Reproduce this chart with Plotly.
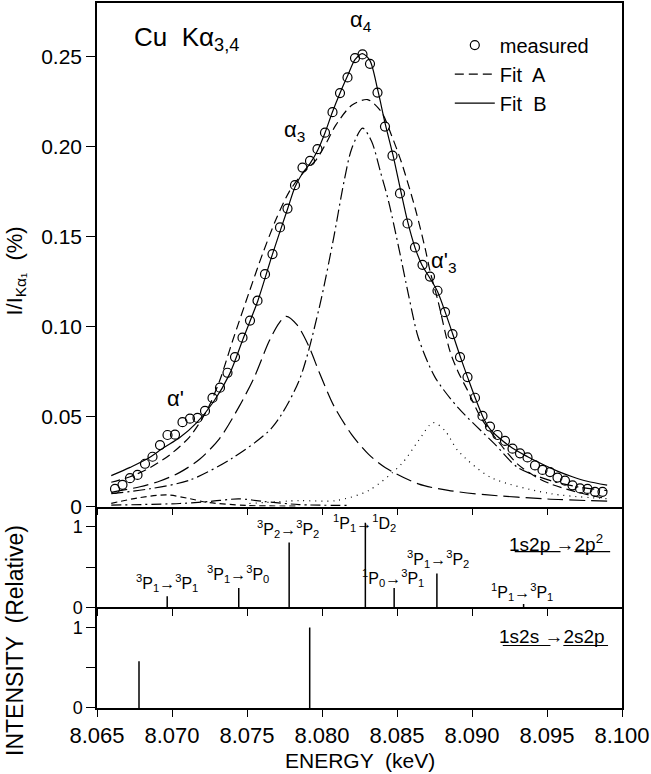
import plotly.graph_objects as go

# ---------------- data ----------------
meas_x = [8.0662, 8.0667, 8.0672, 8.0677, 8.0682, 8.0687, 8.0692, 8.0697, 8.0702, 8.0707,
          8.0712, 8.0717, 8.0722, 8.0727, 8.0732, 8.0737, 8.0742, 8.0747, 8.0752, 8.0757,
          8.0762, 8.0767, 8.0772, 8.0777, 8.0782, 8.0787, 8.0792, 8.0797, 8.0802, 8.0807,
          8.0812, 8.0817, 8.0822, 8.0827, 8.0832, 8.0837, 8.0842, 8.0847, 8.0852, 8.0857,
          8.0862, 8.0867, 8.0872, 8.0877, 8.0882, 8.0887, 8.0892, 8.0897, 8.0902, 8.0907,
          8.0912, 8.0917, 8.0922, 8.0927, 8.0932, 8.0937, 8.0942, 8.0947, 8.0952, 8.0957,
          8.0962, 8.0967, 8.0972, 8.0977, 8.0982, 8.0987]
meas_y = [0.0098, 0.0121, 0.0158, 0.0176, 0.0238, 0.0277, 0.0342, 0.0398, 0.0400, 0.0469,
          0.0489, 0.0493, 0.0532, 0.0604, 0.0661, 0.0744, 0.0831, 0.0939, 0.1034, 0.1145,
          0.1292, 0.1404, 0.1552, 0.1657, 0.1787, 0.1885, 0.1922, 0.1987, 0.2079, 0.2193,
          0.2299, 0.2386, 0.2494, 0.2514, 0.2462, 0.2302, 0.2113, 0.1951, 0.1741, 0.1574,
          0.1441, 0.1344, 0.1279, 0.1200, 0.1081, 0.0959, 0.0831, 0.0720, 0.0605, 0.0504,
          0.0445, 0.0398, 0.0365, 0.0322, 0.0296, 0.0273, 0.0229, 0.0204, 0.0192, 0.0161,
          0.0144, 0.0118, 0.0101, 0.0098, 0.0082, 0.0082]

fitB_x = [8.06595, 8.06721, 8.06833, 8.06946, 8.07052, 8.07165, 8.07277, 8.07383, 8.07476,
          8.07573, 8.07670, 8.07771, 8.07820, 8.07871, 8.07922, 8.07969, 8.08019, 8.08069,
          8.08121, 8.08172, 8.08221, 8.08269, 8.08319, 8.08372, 8.08422, 8.08473, 8.08525,
          8.08571, 8.08620, 8.08668, 8.08719, 8.08770, 8.08822, 8.08872, 8.08922, 8.08973,
          8.09023, 8.09073, 8.09119, 8.09172, 8.09271, 8.09371, 8.09470, 8.09569, 8.09669,
          8.09768, 8.09901]
fitB_y = [0.0172, 0.0218, 0.0264, 0.0328, 0.0384, 0.0467, 0.0583, 0.0735, 0.0937,
          0.1146, 0.1404, 0.1656, 0.1777, 0.1855, 0.1910, 0.1977, 0.2076, 0.2193,
          0.2301, 0.2398, 0.2486, 0.2519, 0.2481, 0.2315, 0.2126, 0.1955, 0.1755,
          0.1584, 0.1440, 0.1340, 0.1271, 0.1196, 0.1080, 0.0958, 0.0833, 0.0714,
          0.0601, 0.0498, 0.0432, 0.0388, 0.0324, 0.0277, 0.0235, 0.0197, 0.0166,
          0.0141, 0.0119]

fitA_x = [8.06595, 8.06721, 8.06853, 8.06986, 8.07118, 8.07231, 8.07317, 8.07403, 8.07516,
          8.07602, 8.07695, 8.07781, 8.07867, 8.07960, 8.08032, 8.08092, 8.08198, 8.08304,
          8.08397, 8.08463, 8.08529, 8.08622, 8.08688, 8.08721, 8.08774, 8.08853, 8.08907,
          8.08973, 8.09059, 8.09172, 8.09304, 8.09437, 8.09524, 8.09702, 8.09901]
fitA_y = [0.0135, 0.0166, 0.0216, 0.0288, 0.0388, 0.0532, 0.0698, 0.0919, 0.1196,
          0.1401, 0.1600, 0.1750, 0.1849, 0.1927, 0.2027, 0.2121, 0.2231, 0.2263,
          0.2193, 0.2065, 0.1916, 0.1656, 0.1434, 0.1307, 0.1141, 0.0864, 0.0750,
          0.0642, 0.0494, 0.0365, 0.0236, 0.0160, 0.0126, 0.0080, 0.0043]

c1_x = [8.06595, 8.06787, 8.06920, 8.07052, 8.07184, 8.07317, 8.07450, 8.07549, 8.07648,
        8.07714, 8.07761, 8.07834, 8.07913, 8.07980, 8.08079, 8.08198, 8.08311, 8.08423,
        8.08642, 8.08841, 8.09086, 8.09503, 8.09901]
c1_y = [0.0079, 0.0110, 0.0142, 0.0190, 0.0263, 0.0378, 0.0560, 0.0720, 0.0920,
        0.1020, 0.1058, 0.1010, 0.0890, 0.0750, 0.0560, 0.0400, 0.0290, 0.0216,
        0.0126, 0.0090, 0.0066, 0.0042, 0.0030]

c2_x = [8.06595, 8.06853, 8.07118, 8.07403, 8.07668, 8.07847, 8.07980, 8.08079, 8.08145,
        8.08198, 8.08271, 8.08331, 8.08390, 8.08443, 8.08509, 8.08576, 8.08642, 8.08753,
        8.08907, 8.09152, 8.09304, 8.09524, 8.09702, 8.09901]
c2_y = [0.0072, 0.0099, 0.0147, 0.0270, 0.0440, 0.0700, 0.1100, 0.1500, 0.1800,
        0.1990, 0.2104, 0.2030, 0.1860, 0.1700, 0.1450, 0.1180, 0.0940, 0.0720,
        0.0550, 0.0347, 0.0218, 0.0144, 0.0110, 0.0089]

c3_x = [8.07516, 8.07847, 8.08092, 8.08311, 8.08529, 8.08642, 8.08741, 8.08821, 8.08907,
        8.09126, 8.09524, 8.09901]
c3_y = [0.0017, 0.0033, 0.0033, 0.0089, 0.0236, 0.0365, 0.0467, 0.0421, 0.0310,
        0.0162, 0.0072, 0.0044]

c4_x = [8.06595, 8.06787, 8.06966, 8.07118, 8.07231, 8.07496, 8.07847]
c4_y = [0.0018, 0.0050, 0.0065, 0.0044, 0.0024, 0.0006, 0.0003]

c5_x = [8.06595, 8.07052, 8.07251, 8.07443, 8.07615, 8.07847, 8.08178]
c5_y = [0.0008, 0.0017, 0.0028, 0.0043, 0.0028, 0.0011, 0.0006]

# 1s2p -> 2p^2 transitions (relative intensity)
t1_x = [8.06968, 8.07445, 8.07781, 8.08289, 8.08481, 8.08766, 8.09344]
t1_h = [0.136, 0.240, 0.805, 1.05, 0.240, 0.420, 0.04]
t1_lab = ["<sup>3</sup>P<sub>1</sub>\u2192<sup>3</sup>P<sub>1</sub>",
          "<sup>3</sup>P<sub>1</sub>\u2192<sup>3</sup>P<sub>0</sub>",
          "<sup>3</sup>P<sub>2</sub>\u2192<sup>3</sup>P<sub>2</sub>",
          "<sup>1</sup>P<sub>1</sub>\u2192<sup>1</sup>D<sub>2</sub>",
          "<sup>1</sup>P<sub>0</sub>\u2192<sup>3</sup>P<sub>1</sub>",
          "<sup>3</sup>P<sub>1</sub>\u2192<sup>3</sup>P<sub>2</sub>",
          "<sup>1</sup>P<sub>1</sub>\u2192<sup>3</sup>P<sub>1</sub>"]

# 1s2s -> 2s2p transitions
t2_x = [8.06780, 8.07918]
t2_h = [0.58, 1.0]

x_ticks = [8.065, 8.070, 8.075, 8.080, 8.085, 8.090, 8.095, 8.100]
y_ticks = [0, 0.05, 0.10, 0.15, 0.20, 0.25]
y_ticktext = ["0", "0.05", "0.10", "0.15", "0.20", "0.25"]

FONT = "Liberation Sans"
LW = 1.2

fig = go.Figure()

def curve(xs, ys, dash, name=None, show=False, width=LW):
    fig.add_trace(go.Scatter(x=xs, y=ys, mode="lines",
                             line=dict(color="black", width=width, dash=dash, shape="spline", smoothing=0.8),
                             name=name, showlegend=show, xaxis="x", yaxis="y", hoverinfo="skip"))

fig.add_trace(go.Scatter(x=meas_x, y=meas_y, mode="markers", name="measured",
                         marker=dict(symbol="circle-open", size=9, color="black",
                                     line=dict(width=1.2, color="black")),
                         xaxis="x", yaxis="y", hoverinfo="skip"))
curve(fitA_x, fitA_y, "9px,5px", name="Fit  A", show=True)
curve(fitB_x, fitB_y, "solid", name="Fit  B", show=True)
curve(c1_x, c1_y, "16px,6px")
curve(c2_x, c2_y, "12px,4px,2px,4px")
curve(c3_x, c3_y, "1px,5px")
curve(c4_x, c4_y, "6px,4px")
curve(c5_x, c5_y, "10px,4px,2px,4px")

# stick spectra
for xs, hs, xa, ya in [(t1_x, t1_h, "x2", "y2"), (t2_x, t2_h, "x3", "y3")]:
    sx, sy = [], []
    for xv, hv in zip(xs, hs):
        sx += [xv, xv, None]
        sy += [0, hv, None]
    fig.add_trace(go.Scatter(x=sx, y=sy, mode="lines", line=dict(color="black", width=1.5),
                             showlegend=False, xaxis=xa, yaxis=ya, hoverinfo="skip"))

def ax(**kw):
    d = dict(showline=True, linecolor="black", linewidth=1.5, showgrid=False,
             zeroline=False, ticks="outside", tickcolor="black", tickwidth=1.2,
             tickfont=dict(family=FONT, size=21, color="black"))
    d.update(kw)
    return d

xr = [8.065, 8.100]
D1, D2 = 1.0 / 7.0, 2.0 / 7.0
small_tick = dict(family=FONT, size=18, color="black")

fig.update_layout(
    width=651, height=774,
    margin=dict(l=97, r=26, t=1, b=66),
    paper_bgcolor="white", plot_bgcolor="white",
    font=dict(family=FONT, color="black"),
    showlegend=True,
    legend=dict(x=0.672, y=0.968, xanchor="left", yanchor="top", bgcolor="rgba(0,0,0,0)",
                font=dict(family=FONT, size=20, color="black"), tracegroupgap=0, itemwidth=40),
    xaxis=ax(domain=[0, 1], range=xr, anchor="y", tickvals=x_ticks, showticklabels=False,
             ticklen=7, mirror=True),
    xaxis2=ax(domain=[0, 1], range=xr, anchor="y2", matches="x", tickvals=x_ticks,
              showticklabels=False, ticklen=7, mirror=False),
    xaxis3=ax(domain=[0, 1], range=xr, anchor="y3", matches="x", tickvals=x_ticks,
              ticktext=["%.3f" % v for v in x_ticks], ticklen=7, mirror=False,
              ticklabeloverflow="allow", tickfont=dict(family=FONT, size=22, color="black")),
    yaxis=ax(domain=[D2, 1.0], range=[0, 0.28], anchor="x", tickvals=y_ticks,
             ticktext=y_ticktext, ticklen=9, mirror=True),
    yaxis2=ax(domain=[D1, D2], range=[0, 1.25], anchor="x2", tickvals=[0, 0.5, 1],
              ticktext=["0", "", "1"], ticklen=9, mirror=True, tickfont=small_tick),
    yaxis3=ax(domain=[0, D1], range=[0, 1.25], anchor="x3", tickvals=[0, 0.5, 1],
              ticktext=["0", "", "1"], ticklen=9, mirror=True, tickfont=small_tick),
)

ann = []
def A(text, x, y, xref="x", yref="y", size=20, xanchor="left", yanchor="middle", angle=0):
    ann.append(dict(text=text, x=x, y=y, xref=xref, yref=yref, showarrow=False, xanchor=xanchor,
                    yanchor=yanchor, textangle=angle, font=dict(family=FONT, size=size, color="black")))

A("Cu  K\u03b1<sub>3,4</sub>", 8.0673, 0.260, size=26)
A("\u03b1<sub>4</sub>", 8.0817, 0.270, size=22)
A("\u03b1<sub>3</sub>", 8.0773, 0.209, size=22)
A("\u03b1'<sub>3</sub>", 8.0871, 0.136, size=22)
A("\u03b1'", 8.0695, 0.060, size=22)

# transition labels (positions relative to their sticks)
lab_dx = [0.0, -0.00005, -0.0001, -0.00005, -0.0001, 0.0001, -0.0001]
lab_y = [0.30, 0.41, 0.97, 1.05, 0.36, 0.60, 0.19]
for xv, lab, dx, ly in zip(t1_x, t1_lab, lab_dx, lab_y):
    A(lab, xv + dx, ly, xref="x2", yref="y2", size=16, xanchor="center", yanchor="middle")

A("1s2p \u21922p<sup>2</sup>", 8.0956, 0.80, xref="x2", yref="y2", size=19, xanchor="center")
A("1s2s \u21922s2p", 8.0953, 0.887, xref="x3", yref="y3", size=19, xanchor="center")

A("I/I<sub>K\u03b1\u2081</sub>  (%)", -0.155, 0.62, xref="paper", yref="paper", size=22, xanchor="center", angle=-90)
A("INTENSITY  (Relative)", -0.155, 0.096, xref="paper", yref="paper", size=23, xanchor="center", angle=-90)
A("ENERGY  (keV)", 0.5, -0.075, xref="paper", yref="paper", size=21, xanchor="center", yanchor="middle")

shapes = []
for (x0, x1, yy, yr) in [(8.09285, 8.09590, 0.69, "y2"), (8.09683, 8.09921, 0.69, "y2"),
                         (8.09205, 8.09523, 0.776, "y3"), (8.09609, 8.09907, 0.776, "y3")]:
    shapes.append(dict(type="line", xref="x", yref=yr, x0=x0, x1=x1, y0=yy, y1=yy,
                       line=dict(color="black", width=1.2)))

fig.update_layout(annotations=ann, shapes=shapes)
fig.write_html("out.html", config={"displayModeBar": False},
               post_script="document.body.style.margin='0';document.body.style.overflow='hidden';")
